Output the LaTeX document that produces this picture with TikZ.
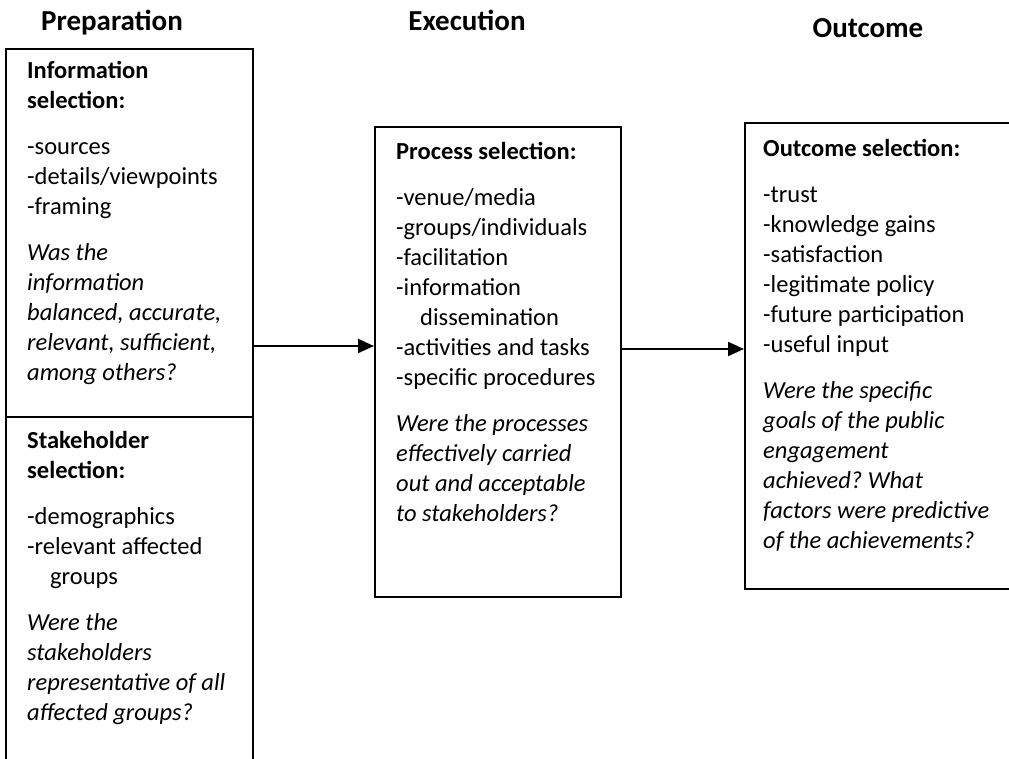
\documentclass[tikz,border=0pt]{standalone}
\usepackage{fontspec}
\setmainfont{Carlito}
\usetikzlibrary{arrows.meta}
\frenchspacing
\begin{document}
\begin{tikzpicture}[x=1pt,y=-1pt,
  box/.style={draw, line width=2pt, inner sep=0pt, anchor=north west},
  txt/.style={anchor=north west, inner sep=0pt, align=left, font=\fontsize{24.5}{30}\selectfont},
  hdr/.style={font=\fontsize{29}{34}\selectfont\bfseries, inner sep=0pt, anchor=base},
  link/.style={line width=2pt, -{Triangle[length=16pt,width=14pt]}}]
\useasboundingbox (0,0) rectangle (1009,758);
\clip (0,0) rectangle (1009,758);
% headers
\node[hdr] (hprep) at (112,30) {Preparation};
\node[hdr] (hexec) at (467,30) {Execution};
\node[hdr] (hout) at (868,37) {Outcome};
% boxes
\node[box, minimum width=247pt, minimum height=368pt] (infobox) at (5,48) {};
\node[box, minimum width=247pt, minimum height=360pt] (stakebox) at (5,416) {};
\node[box, minimum width=246pt, minimum height=470pt] (procbox) at (374,126) {};
\node[box, minimum width=280pt, minimum height=466pt] (outbox) at (744,122) {};
% texts
\node[txt] (infotxt) at (27,61) {\textbf{Information}\\ \textbf{selection:}\\[16pt]
-sources\\ -details/viewpoints\\ -framing\\[16pt]
\textit{Was the}\\ \textit{information}\\ \textit{balanced, accurate,}\\ \textit{relevant, sufficient,}\\ \textit{among others?}};
\node[txt] (staketxt) at (27,431) {\textbf{Stakeholder}\\ \textbf{selection:}\\[16pt]
-demographics\\ -relevant affected\\ \hspace*{23pt}groups\\[16pt]
\textit{Were the}\\ \textit{stakeholders}\\ \textit{representative of all}\\ \textit{affected groups?}};
\node[txt] (proctxt) at (396,142) {\textbf{Process selection:}\\[16pt]
-venue/media\\ -groups/individuals\\ -facilitation\\ -information\\ \hspace*{24pt}dissemination\\ -activities and tasks\\ -specific procedures\\[16pt]
\textit{Were the processes}\\ \textit{effectively carried}\\ \textit{out and acceptable}\\ \textit{to stakeholders?}};
\node[txt] (outtxt) at (763,139) {\textbf{Outcome selection:}\\[16pt]
-trust\\ -knowledge gains\\ -satisfaction\\ -legitimate policy\\ -future participation\\ -useful input\\[16pt]
\textit{Were the specific}\\ \textit{goals of the public}\\ \textit{engagement}\\ \textit{achieved? What}\\ \textit{factors were predictive}\\ \textit{of the achievements?}};
% connectors
\coordinate (y1) at (0,346);
\coordinate (y2) at (0,349);
\draw[link] (infobox.east |- y1) -- (procbox.west |- y1);
\draw[link] (procbox.east |- y2) -- (outbox.west |- y2);
\end{tikzpicture}
\end{document}
